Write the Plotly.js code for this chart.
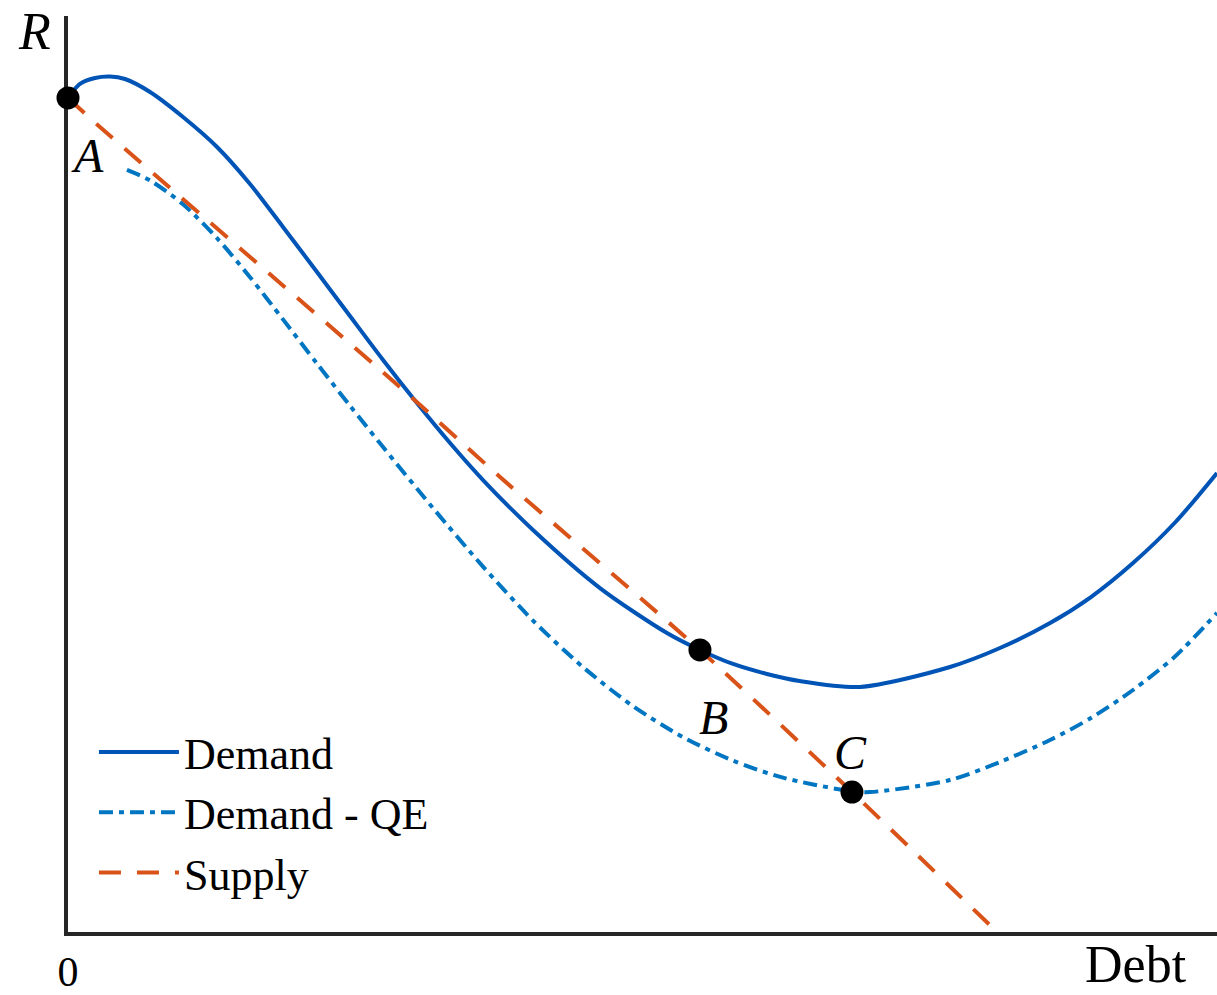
<!DOCTYPE html>
<html>
<head>
<meta charset="utf-8">
<script src="https://cdn.plot.ly/plotly-3.0.1.min.js"></script>
<style>html,body{margin:0;padding:0;background:#fff;}#chart{position:relative;z-index:1;width:1217px;height:995px;}
.prime{position:absolute;left:10px;top:10px;font-size:40px;visibility:hidden;font-family:"Liberation Serif";z-index:0;}
</style>
</head>
<body>
<div class="prime">DemandQESupplyDebt0</div>
<div class="prime" style="font-style:italic">RABC</div>
<div id="chart"></div>
<script>
// Debt (x) and rate R (y), in arbitrary units 0-100
const demandX = [0, 1.04, 2.35, 3.66, 4.96, 7.14, 10.01, 12.97, 15.84, 18.71, 21.67, 24.54, 27.42, 30.37, 33.25, 36.12, 40.47, 46.30, 52.13, 55.00, 57.88, 60.83, 63.68, 68.93, 76.76, 81.11, 85.47, 89.03, 92.69, 96.39, 100];
const demandY = [91.05, 92.58, 93.23, 93.39, 93.12, 91.70, 88.97, 85.70, 81.66, 76.97, 72.05, 67.25, 62.45, 57.75, 53.38, 49.34, 43.89, 37.55, 32.64, 30.79, 29.26, 28.17, 27.40, 26.75, 28.93, 31.00, 33.73, 36.57, 40.28, 44.76, 50.11];

const qeX = [5.13, 7.14, 10.01, 12.97, 15.84, 18.71, 21.67, 24.54, 27.42, 31.77, 36.12, 40.47, 44.82, 49.17, 53.52, 57.88, 62.23, 68.06, 69.80, 76.76, 81.11, 85.47, 89.03, 92.69, 96.39, 100];
const qeY = [83.19, 82.05, 79.45, 75.74, 71.49, 66.88, 62.05, 57.45, 52.94, 46.28, 39.89, 34.00, 28.92, 24.66, 21.28, 18.71, 16.85, 15.39, 15.28, 16.59, 18.56, 20.96, 23.36, 26.42, 30.13, 34.83];

const supplyX = [0, 2.78, 28.89, 37.60, 55.00, 68.23, 80.85];
const supplyY = [91.05, 87.88, 59.50, 49.67, 30.79, 15.28, 0];

const pointLabels = ['A', 'B', 'C'];
const pointX = [0, 55.00, 68.23];
const pointY = [91.05, 30.79, 15.28];

const seriesNames = ['Demand', 'Demand - QE', 'Supply'];
const tickLabels = ['0'];
const axisLabels = {x: 'Debt', y: 'R'};

const serif = 'Liberation Serif';

const traces = [
  {x: demandX, y: demandY, name: seriesNames[0], mode: 'lines', type: 'scatter',
   line: {color: '#0054B6', width: 4, shape: 'spline', smoothing: 0.8}},
  {x: qeX, y: qeY, name: seriesNames[1], mode: 'lines', type: 'scatter',
   line: {color: '#0076C2', width: 4, shape: 'spline', smoothing: 0.8, dash: '14px,6px,5px,6px'}},
  {x: supplyX, y: supplyY, name: seriesNames[2], mode: 'lines', type: 'scatter',
   line: {color: '#D95319', width: 4, shape: 'spline', smoothing: 0.6, dash: '22px,16px'}},
  {x: pointX, y: pointY, mode: 'markers', type: 'scatter', showlegend: false, cliponaxis: false,
   marker: {color: '#000', size: 23}}
];

const labelOffsets = [[1.74, 84.8], [56.2, 23.4], [68.1, 19.65]];
const annotations = pointLabels.map((t, i) => ({
  x: labelOffsets[i][0], y: labelOffsets[i][1], xref: 'x', yref: 'y', text: '<i>' + t + '</i>', showarrow: false,
  font: {family: serif, size: 48}, xanchor: 'center', yanchor: 'middle'
}));
annotations.push({x: -0.029, y: 0.983, xref: 'paper', yref: 'paper', text: '<i>' + axisLabels.y + '</i>', showarrow: false,
  font: {family: serif, size: 52}, xanchor: 'center', yanchor: 'middle'});
annotations.push({x: 0.9295, y: -0.0687, xref: 'paper', yref: 'paper', text: axisLabels.x, showarrow: false,
  font: {family: serif, size: 52}, xanchor: 'center', yanchor: 'bottom'});

const layout = {
  width: 1217, height: 995,
  font: {family: serif, color: '#000000'},
  margin: {l: 68, r: 0, t: 16, b: 63, pad: 0},
  paper_bgcolor: '#fff', plot_bgcolor: '#fff',
  showlegend: true,
  legend: {x: 0.0226, y: 0.2347, xanchor: 'left', yanchor: 'top', bgcolor: 'rgba(0,0,0,0)',
    font: {family: serif, size: 44}, itemwidth: 80},
  xaxis: {range: [0, 100], showline: true, linecolor: '#262626', linewidth: 4, showgrid: false,
    zeroline: false, ticks: '', tickvals: [0], ticktext: tickLabels, layer: 'below traces',
    tickfont: {family: serif, size: 42}, fixedrange: true},
  yaxis: {range: [0, 100], showline: true, linecolor: '#262626', linewidth: 4, showgrid: false,
    zeroline: false, ticks: '', showticklabels: false, layer: 'below traces', fixedrange: true},
  annotations: annotations
};

function draw() {
  return Plotly.newPlot('chart', traces, layout, {displayModeBar: false});
}
draw();
if (document.fonts && document.fonts.load) {
  Promise.all([
    document.fonts.load('44px "Liberation Serif"'),
    document.fonts.load('italic 48px "Liberation Serif"')
  ]).then(draw, function () {});
}
</script>
</body>
</html>
